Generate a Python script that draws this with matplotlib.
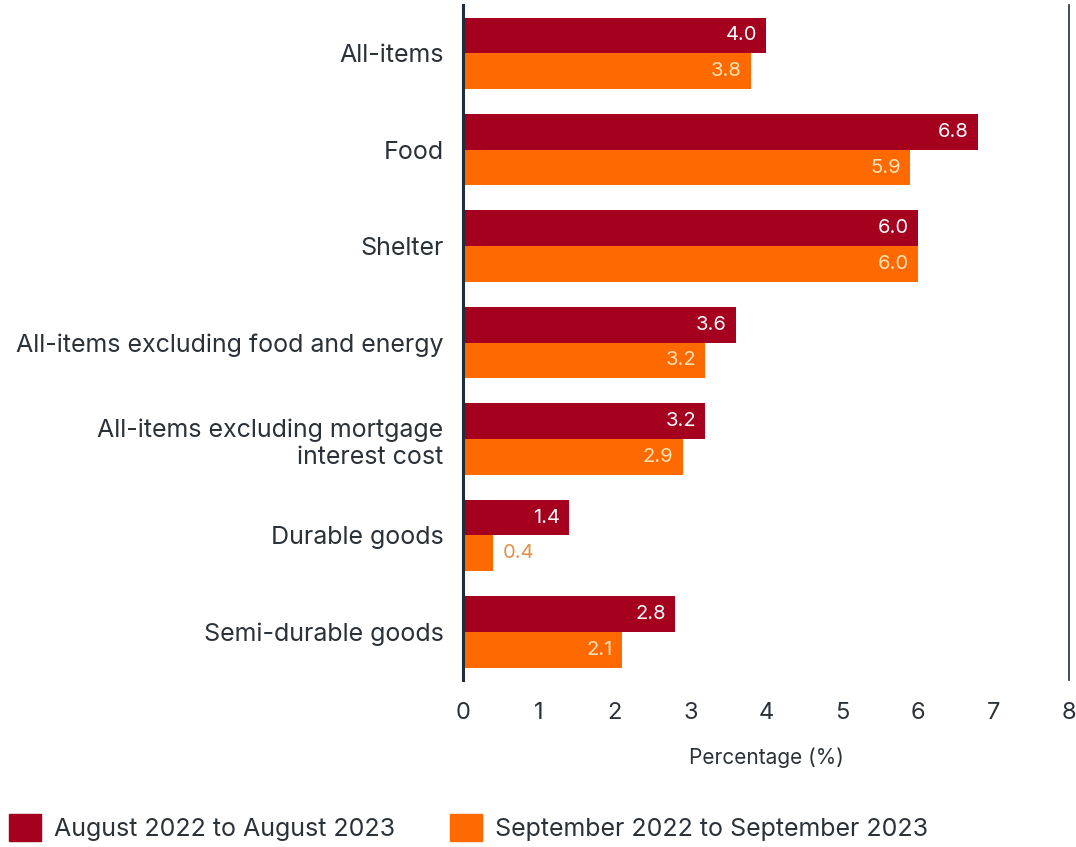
import matplotlib.pyplot as plt
import numpy as np
from matplotlib.patches import Patch

categories = [
    "All-items",
    "Food",
    "Shelter",
    "All-items excluding food and energy",
    "All-items excluding mortgage\ninterest cost",
    "Durable goods",
    "Semi-durable goods",
]
aug_vals = [4.0, 6.8, 6.0, 3.6, 3.2, 1.4, 2.8]
sep_vals = [3.8, 5.9, 6.0, 3.2, 2.9, 0.4, 2.1]
series_labels = ["August 2022 to August 2023", "September 2022 to September 2023"]

RED = "#A5001E"
ORANGE = "#FF6A00"
TEXT = "#2b3138"

plt.rcParams["font.family"] = ["Inter", "DejaVu Sans"]

fig = plt.figure(figsize=(10.76, 8.47), dpi=100)
ax = fig.add_axes([0.4303, 0.197, 0.5632, 0.797])

y = np.arange(len(categories))
h = 0.37
ax.barh(y - h / 2, aug_vals, height=h, color=RED)
ax.barh(y + h / 2, sep_vals, height=h, color=ORANGE)

# value labels
for yi, v in zip(y, aug_vals):
    ax.text(v - 0.12, yi - h / 2, f"{v:.1f}", ha="right", va="center",
            color="white", fontsize=14.5)
for yi, v in zip(y, sep_vals):
    if v < 1:
        ax.text(v + 0.12, yi + h / 2, f"{v:.1f}", ha="left", va="center",
                color="#E0914A", fontsize=14.5)
    else:
        ax.text(v - 0.12, yi + h / 2, f"{v:.1f}", ha="right", va="center",
                color="#FFE2B8", fontsize=14.5)

ax.set_xlim(0, 8)
ax.set_ylim(len(categories) - 0.5, -0.5)
ax.set_yticks(y)
ax.set_yticklabels(categories, fontsize=18, color=TEXT, ha="right",
                   linespacing=1.25)
ax.set_xticks(range(0, 9))
ax.tick_params(axis="both", length=0, labelcolor=TEXT)
ax.tick_params(axis="y", pad=14)
ax.tick_params(axis="x", pad=16, labelsize=17)
ax.set_xlabel("Percentage (%)", fontsize=15, color=TEXT, labelpad=17)

for s in ["top", "bottom"]:
    ax.spines[s].set_visible(False)
ax.spines["left"].set_color("#1f2d3a")
ax.spines["left"].set_linewidth(2.2)
ax.spines["right"].set_color("#1f2d3a")
ax.spines["right"].set_linewidth(1.2)

handles = [Patch(color=RED), Patch(color=ORANGE)]
fig.legend(handles, series_labels, loc="lower left", bbox_to_anchor=(-0.013, -0.02),
           ncol=2, frameon=False, fontsize=18, handlelength=1.3, handleheight=1.3,
           handletextpad=0.5, columnspacing=2.2, labelcolor=TEXT)

fig.savefig("out.png", dpi=100)
